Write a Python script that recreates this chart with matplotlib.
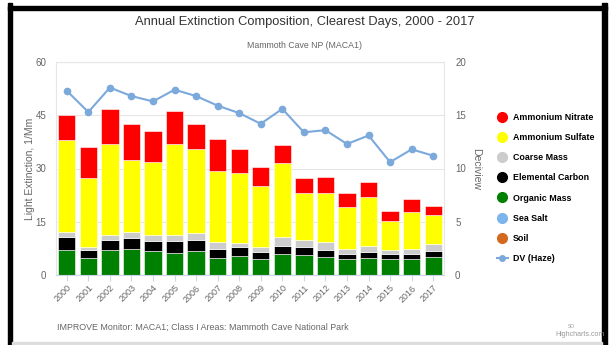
import matplotlib
matplotlib.use("Agg")
import matplotlib.pyplot as plt
import numpy as np
from matplotlib.lines import Line2D
from matplotlib.patches import Rectangle

plt.rcParams['font.family'] = ['Liberation Sans', 'DejaVu Sans']

years = [str(y) for y in range(2000, 2018)]
organic_mass = [7.0, 4.7, 7.0, 7.2, 6.8, 6.1, 6.8, 4.9, 5.4, 4.5, 5.9, 5.6, 5.2, 4.5, 4.7, 4.4, 4.4, 5.2]
elemental_carbon = [3.8, 2.3, 3.0, 3.1, 2.8, 3.5, 3.2, 2.3, 2.4, 1.9, 2.3, 2.2, 1.8, 1.4, 1.9, 1.4, 1.4, 1.6]
coarse_mass = [1.4, 1.0, 1.3, 1.9, 1.7, 1.7, 1.9, 2.2, 1.1, 1.4, 2.6, 2.1, 2.4, 1.4, 1.6, 1.2, 1.4, 1.9]
ammonium_sulfate = [25.8, 19.3, 25.6, 20.2, 20.4, 25.6, 23.5, 20.0, 19.7, 17.4, 20.7, 13.1, 13.6, 11.9, 13.9, 8.2, 10.5, 8.2]
ammonium_nitrate = [7.0, 8.7, 9.8, 10.1, 8.8, 9.3, 7.1, 8.9, 6.9, 5.1, 5.2, 4.3, 4.5, 3.8, 4.2, 2.9, 3.6, 2.6]
deciview = [17.3, 15.3, 17.6, 16.8, 16.3, 17.4, 16.8, 15.9, 15.2, 14.2, 15.6, 13.4, 13.6, 12.3, 13.1, 10.6, 11.8, 11.2]

# stack order bottom -> top
stack = [
    ("Organic Mass", organic_mass, "#008000"),
    ("Elemental Carbon", elemental_carbon, "#000000"),
    ("Coarse Mass", coarse_mass, "#cccccc"),
    ("Ammonium Sulfate", ammonium_sulfate, "#ffff00"),
    ("Ammonium Nitrate", ammonium_nitrate, "#ff0000"),
]
dv_color = "#7ba9dc"
grey = "#666666"

fig = plt.figure(figsize=(6.09, 3.45), dpi=100)
ax = fig.add_axes([56 / 609, 70 / 345, 388 / 609, 213 / 345])

x = np.arange(len(years))
bottom = np.zeros(len(years))
for name, vals, col in stack:
    ax.bar(x, vals, bottom=bottom, width=0.8, color=col, edgecolor="white", linewidth=0.4, zorder=2)
    bottom += np.array(vals)

ax.set_xlim(-0.5, len(years) - 0.5)
ax.set_ylim(0, 60)
ax.set_yticks([0, 15, 30, 45, 60])
ax.grid(axis="y", color="#e6e6e6", linewidth=0.8, zorder=0)
ax.set_axisbelow(True)
for s in ax.spines.values():
    s.set_color("#e6e6e6")
    s.set_linewidth(0.8)
ax.spines["bottom"].set_color("#ccd6eb")
ax.set_xticks(x)
ax.set_xticklabels(years, rotation=45, ha="right", rotation_mode="anchor", fontsize=6.5, color=grey)
ax.tick_params(axis="x", length=4, color="#ccd6eb", pad=2)
ax.tick_params(axis="y", length=0, labelsize=7, labelcolor=grey, pad=7)
ax.set_ylabel("Light Extinction, 1/Mm", fontsize=7.5, color=grey)
ax.yaxis.set_label_coords(-0.055, 0.5)

ax2 = ax.twinx()
ax2.plot(x, deciview, color=dv_color, linewidth=1.5, marker="o", markersize=4.5, zorder=5)
ax2.set_ylim(0, 20)
ax2.set_yticks([0, 5, 10, 15, 20])
ax2.tick_params(axis="y", length=0, labelsize=7, labelcolor=grey, pad=8)
for s in ax2.spines.values():
    s.set_visible(False)
ax2.set_ylabel("Deciview", fontsize=7.5, color=grey, rotation=270, labelpad=11)

fig.text(0.5, 0.935, "Annual Extinction Composition, Clearest Days, 2000 - 2017",
         ha="center", va="center", fontsize=9.3, color="#333333")
fig.text(0.5, 0.868, "Mammoth Cave NP (MACA1)", ha="center", va="center", fontsize=6.3, color=grey)
fig.text(57 / 609, 1 - 327 / 345, "IMPROVE Monitor: MACA1; Class I Areas: Mammoth Cave National Park",
         ha="left", va="center", fontsize=6.4, color=grey)
fig.text(568 / 609, 1 - 326 / 345, "SO", ha="left", va="center", fontsize=3.5, color="#999999")
fig.text(555 / 609, 1 - 335 / 345, "Highcharts.com", ha="left", va="center", fontsize=5, color="#999999")

# legend
legend_items = [
    ("Ammonium Nitrate", "#ff0000"),
    ("Ammonium Sulfate", "#ffff00"),
    ("Coarse Mass", "#cccccc"),
    ("Elemental Carbon", "#000000"),
    ("Organic Mass", "#008000"),
    ("Sea Salt", "#7cb5ec"),
    ("Soil", "#d2691e"),
]
handles = [Line2D([0], [0], marker="o", color="w", markerfacecolor=c, markeredgecolor=c,
                  markersize=7, label=n) for n, c in legend_items]
handles.append(Line2D([0], [0], color=dv_color, marker="o", markersize=4, linewidth=1.5, label="DV (Haze)"))
fig.legend(handles=handles, loc="center left", bbox_to_anchor=(489 / 609, 1 - 188 / 345),
           frameon=False, labelspacing=1.25, handlelength=1.2, handletextpad=0.6,
           prop={"weight": "bold", "size": 6.4})

# black frame around the screenshot
fig.patches.append(Rectangle((8 / 609, -0.01), 4 / 609, 1.0, transform=fig.transFigure, color="black"))
fig.patches.append(Rectangle((8 / 609, 1 - 10 / 345), 599 / 609, 4 / 345, transform=fig.transFigure, color="black"))
fig.patches.append(Rectangle((602 / 609, -0.01), 5 / 609, 1.0, transform=fig.transFigure, color="black"))
fig.patches.append(Rectangle((12 / 609, 0), 590 / 609, 3 / 345, transform=fig.transFigure, color="#dddddd"))

fig.savefig("out.png", dpi=100)
